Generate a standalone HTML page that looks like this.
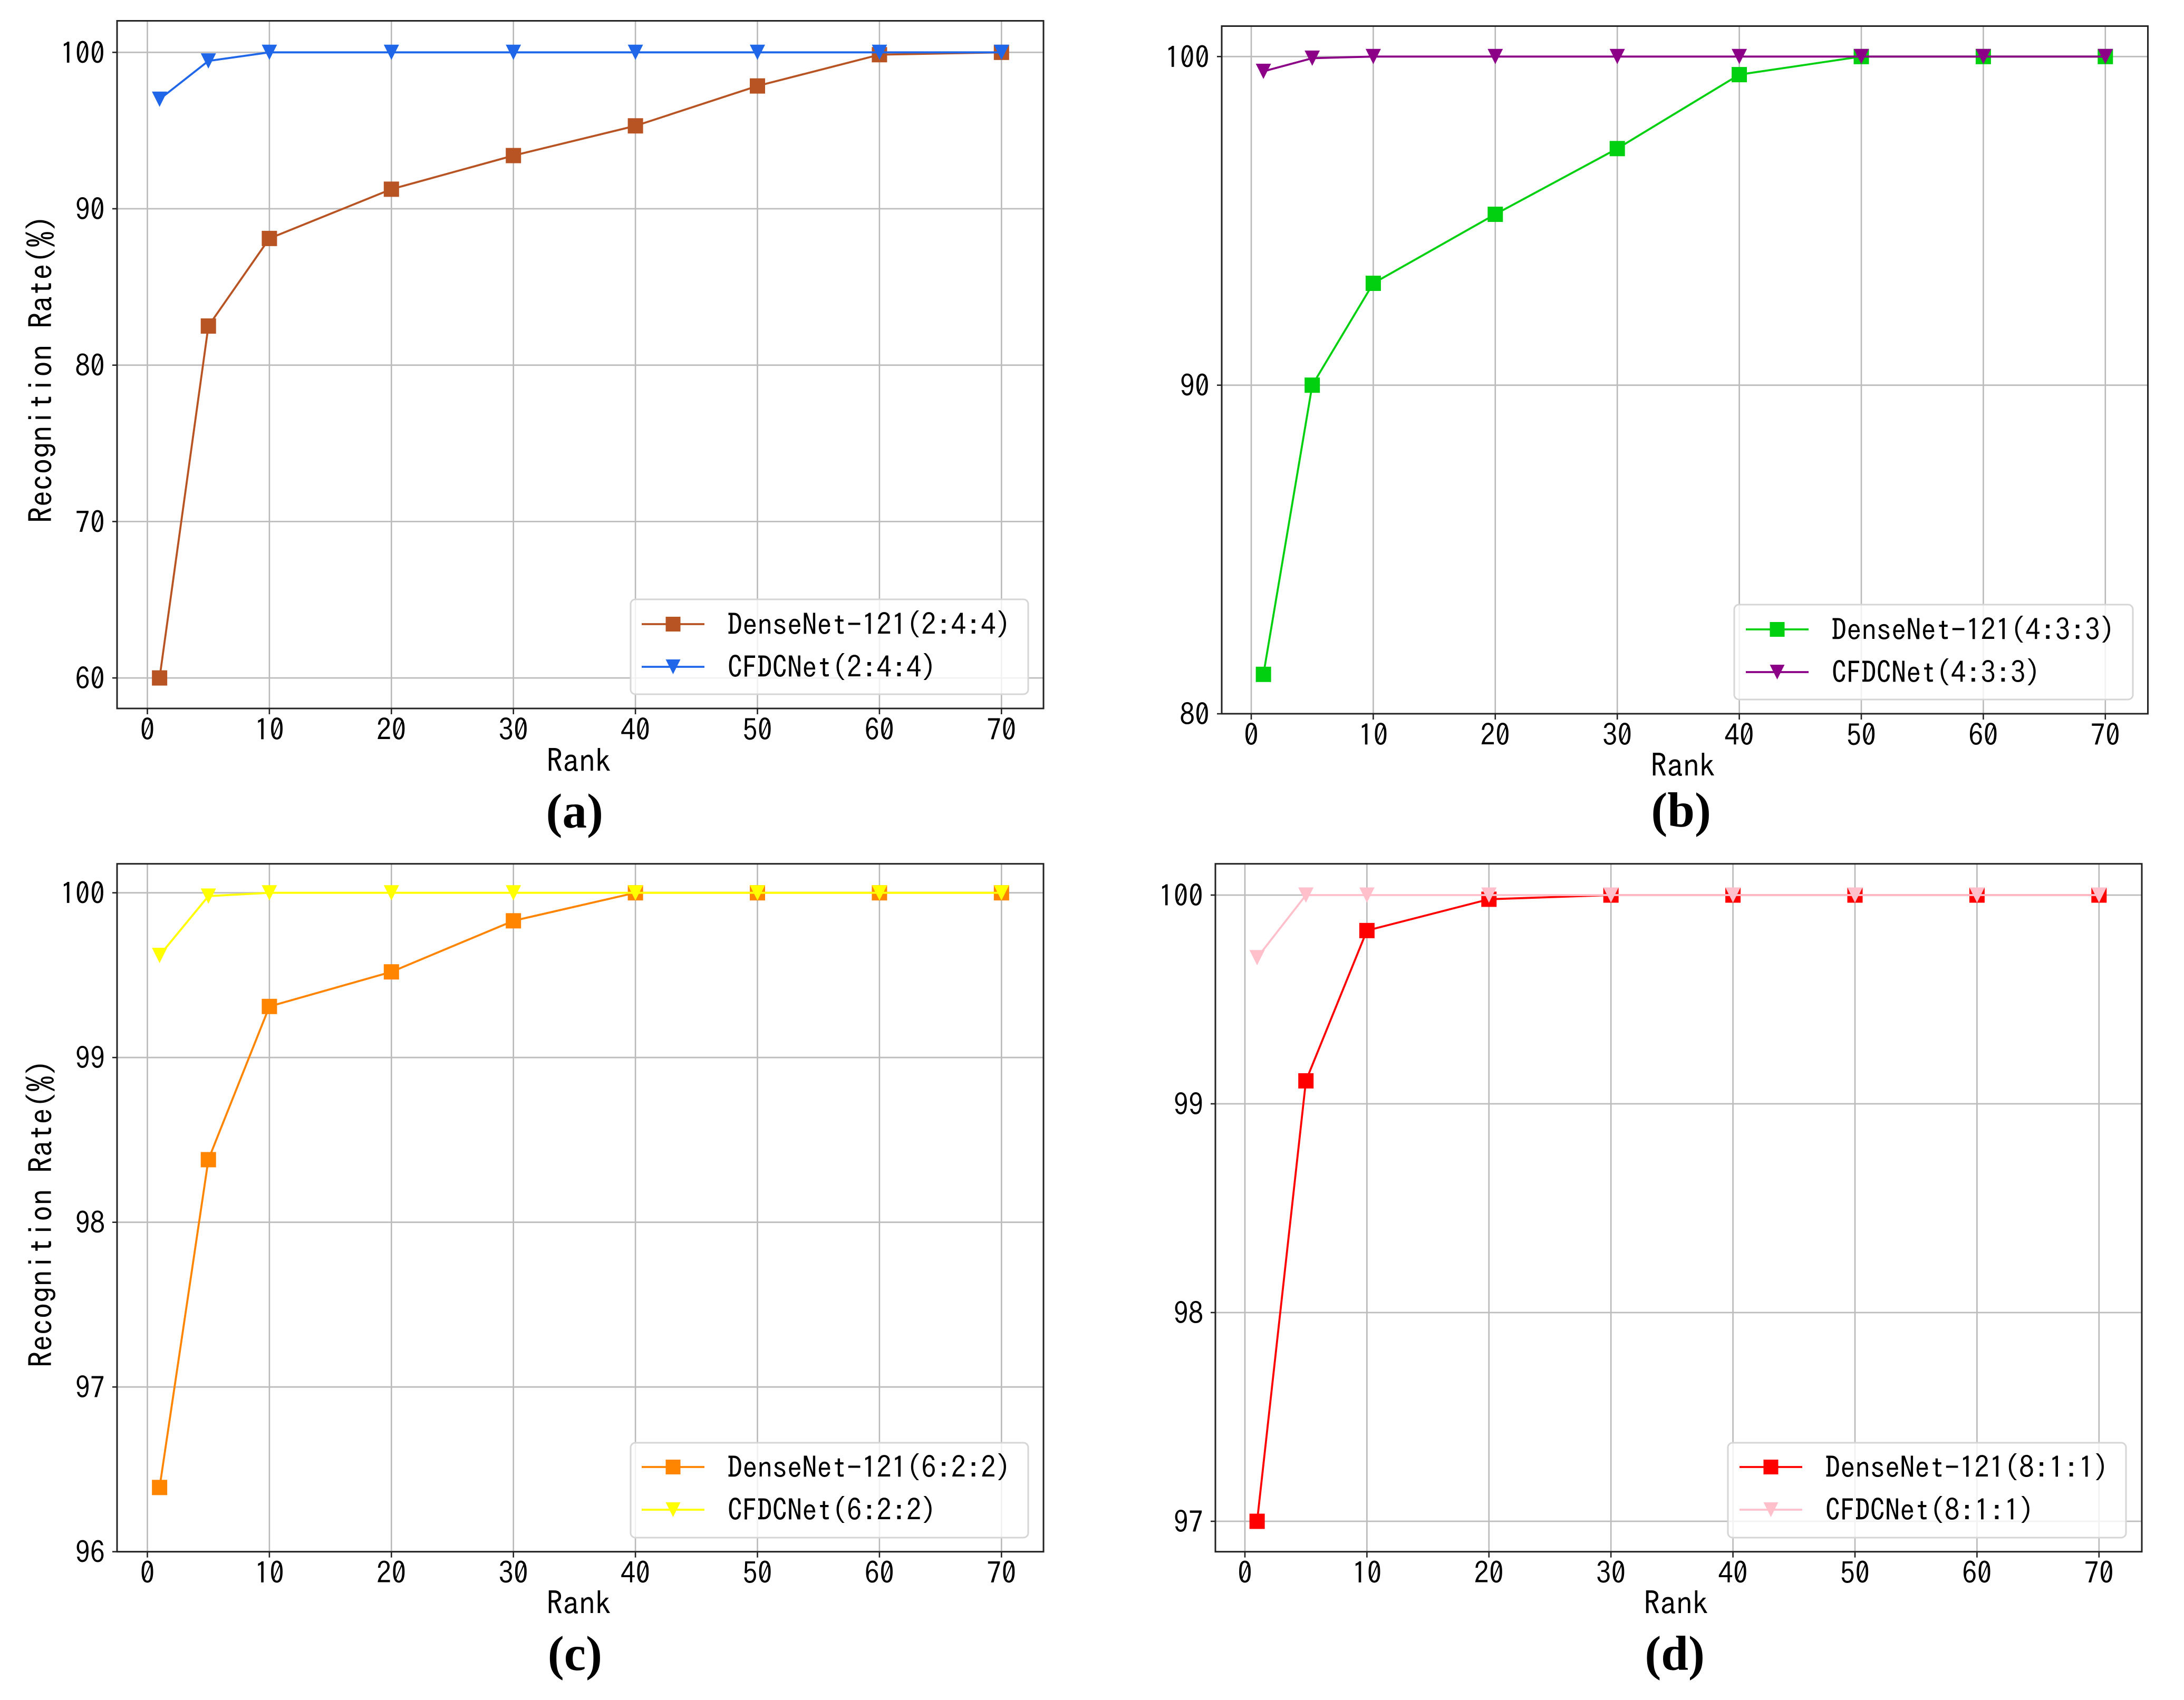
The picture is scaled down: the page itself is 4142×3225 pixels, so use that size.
<!DOCTYPE html>
<html lang="en">
<head>
<meta charset="utf-8">
<title>Recognition rate by rank: DenseNet-121 vs CFDCNet</title>
<style>
html,body{margin:0;padding:0;background:#fff;}
svg{display:block;}
.lbl{font-family:"IPAGothic","Liberation Mono",monospace;font-size:56.5px;fill:#000;}
.axt{font-family:"IPAGothic","Liberation Mono",monospace;font-size:61.5px;fill:#000;}
.cap{font-family:"Liberation Serif",serif;font-weight:bold;font-size:93px;fill:#000;}
.leg{fill:#fff;fill-opacity:.8;stroke:#d6d6d6;stroke-width:3;}
.spine{fill:none;stroke:#222;stroke-width:3;}
</style>
</head>
<body>
<svg id="figure" xmlns="http://www.w3.org/2000/svg" width="4142" height="3225" viewBox="0 0 4142 3225">
<rect x="0" y="0" width="4142" height="3225" fill="#fff"/>

<g id="panel-a">
  <g id="a-grid"></g>
  <g id="a-series"></g>
  <rect class="spine" x="222" y="39.5" width="1757" height="1304.5"/>
  <g id="a-ticks"></g>
  <g>
    <rect class="leg" x="1196" y="1137" width="754" height="180" rx="9"/>
    <line x1="1217" y1="1184" x2="1336" y2="1184" stroke="#b85423" stroke-width="3.8"/>
    <rect x="1262.5" y="1170" width="28" height="28" fill="#b85423"/>
    <text class="lbl" x="1380" y="1205">DenseNet-121(2:4:4)</text>
    <line x1="1217" y1="1265" x2="1336" y2="1265" stroke="#1f67e8" stroke-width="3.8"/>
    <polygon points="1262.5,1251 1290.5,1251 1276.5,1279" fill="#1f67e8"/>
    <text class="lbl" x="1380" y="1286">CFDCNet(2:4:4)</text>
  </g>
  <text class="axt" x="1098" y="1465" text-anchor="middle">Rank</text>
  <text class="axt" x="0" y="0" text-anchor="middle" transform="translate(99.5 700) rotate(-90)">Recognition Rate(%)</text>
  <text class="cap" x="1144" y="1570" text-anchor="end">(a)</text>
</g>

<g id="panel-b">
  <g id="b-grid"></g>
  <g id="b-series"></g>
  <rect class="spine" x="2317" y="49.5" width="1756.5" height="1304.5"/>
  <g id="b-ticks"></g>
  <g>
    <rect class="leg" x="3289" y="1147" width="756" height="180" rx="9"/>
    <line x1="3311" y1="1194" x2="3430" y2="1194" stroke="#00d010" stroke-width="3.8"/>
    <rect x="3356.5" y="1180" width="28" height="28" fill="#00d010"/>
    <text class="lbl" x="3474" y="1215">DenseNet-121(4:3:3)</text>
    <line x1="3311" y1="1275" x2="3430" y2="1275" stroke="#8b0086" stroke-width="3.8"/>
    <polygon points="3356.5,1261 3384.5,1261 3370.5,1289" fill="#8b0086"/>
    <text class="lbl" x="3474" y="1296">CFDCNet(4:3:3)</text>
  </g>
  <text class="axt" x="3192" y="1474" text-anchor="middle">Rank</text>
  <text class="cap" x="3245" y="1568" text-anchor="end">(b)</text>
</g>

<g id="panel-c">
  <g id="c-grid"></g>
  <g id="c-series"></g>
  <rect class="spine" x="222" y="1638.7" width="1757" height="1305"/>
  <g id="c-ticks"></g>
  <g>
    <rect class="leg" x="1196" y="2737" width="754" height="180" rx="9"/>
    <line x1="1217" y1="2783" x2="1336" y2="2783" stroke="#ff8400" stroke-width="3.8"/>
    <rect x="1262.5" y="2769" width="28" height="28" fill="#ff8400"/>
    <text class="lbl" x="1380" y="2804">DenseNet-121(6:2:2)</text>
    <line x1="1217" y1="2864" x2="1336" y2="2864" stroke="#ffff00" stroke-width="3.8"/>
    <polygon points="1262.5,2850 1290.5,2850 1276.5,2878" fill="#ffff00"/>
    <text class="lbl" x="1380" y="2885">CFDCNet(6:2:2)</text>
  </g>
  <text class="axt" x="1098" y="3063" text-anchor="middle">Rank</text>
  <text class="axt" x="0" y="0" text-anchor="middle" transform="translate(99.5 2302) rotate(-90)">Recognition Rate(%)</text>
  <text class="cap" x="1142" y="3168" text-anchor="end">(c)</text>
</g>

<g id="panel-d">
  <g id="d-grid"></g>
  <g id="d-series"></g>
  <rect class="spine" x="2305" y="1638.7" width="1757" height="1305"/>
  <g id="d-ticks"></g>
  <g>
    <rect class="leg" x="3277" y="2737" width="755" height="180" rx="9"/>
    <line x1="3299" y1="2783" x2="3418" y2="2783" stroke="#ff0000" stroke-width="3.8"/>
    <rect x="3344.5" y="2769" width="28" height="28" fill="#ff0000"/>
    <text class="lbl" x="3462" y="2804">DenseNet-121(8:1:1)</text>
    <line x1="3299" y1="2864" x2="3418" y2="2864" stroke="#ffc0cb" stroke-width="3.8"/>
    <polygon points="3344.5,2850 3372.5,2850 3358.5,2878" fill="#ffc0cb"/>
    <text class="lbl" x="3462" y="2885">CFDCNet(8:1:1)</text>
  </g>
  <text class="axt" x="3179" y="3063" text-anchor="middle">Rank</text>
  <text class="cap" x="3233" y="3168" text-anchor="end">(d)</text>
</g>
</svg>

<script>
const ranks = [1, 5, 10, 20, 30, 40, 50, 60, 70];
const xTickValues = [0, 10, 20, 30, 40, 50, 60, 70];

const denseA = [60, 82.5, 88.1, 91.25, 93.4, 95.3, 97.85, 99.85, 100];
const cfdcA  = [97, 99.45, 100, 100, 100, 100, 100, 100, 100];
const yTicksA = [60, 70, 80, 90, 100];

const denseB = [81.2, 90, 93.1, 95.2, 97.2, 99.45, 100, 100, 100];
const cfdcB  = [99.55, 99.95, 100, 100, 100, 100, 100, 100, 100];
const yTicksB = [80, 90, 100];

const denseC = [96.39, 98.38, 99.31, 99.52, 99.83, 100, 100, 100, 100];
const cfdcC  = [99.62, 99.98, 100, 100, 100, 100, 100, 100, 100];
const yTicksC = [96, 97, 98, 99, 100];

const denseD = [97, 99.11, 99.83, 99.98, 100, 100, 100, 100, 100];
const cfdcD  = [99.7, 100, 100, 100, 100, 100, 100, 100, 100];
const yTicksD = [97, 98, 99, 100];

const NS = 'http://www.w3.org/2000/svg';

/* Panel layout: pixel anchors of each axis, not data. */
const layouts = [
  {id:'a', left:222,  right:1979,   top:39.5,   bottom:1344,   x0:279.5, y100:99.3,   perUnit:29.67, ticks:yTicksA, dense:denseA, cfdc:cfdcA, denseColor:'#b85423', cfdcColor:'#1f67e8'},
  {id:'b', left:2317, right:4073.5, top:49.5,   bottom:1354,   x0:2373,  y100:107.3,  perUnit:62.34, ticks:yTicksB, dense:denseB, cfdc:cfdcB, denseColor:'#00d010', cfdcColor:'#8b0086'},
  {id:'c', left:222,  right:1979,   top:1638.7, bottom:2943.7, x0:279.5, y100:1693.7, perUnit:312.5, ticks:yTicksC, dense:denseC, cfdc:cfdcC, denseColor:'#ff8400', cfdcColor:'#ffff00'},
  {id:'d', left:2305, right:4062,   top:1638.7, bottom:2943.7, x0:2361,  y100:1698,   perUnit:396,   ticks:yTicksD, dense:denseD, cfdc:cfdcD, denseColor:'#ff0000', cfdcColor:'#ffc0cb'}
];
const PX_PER_RANK = 23.14;
const MARK = 14.5;

function make(tag, attrs) {
  const el = document.createElementNS(NS, tag);
  Object.keys(attrs).forEach(function (k) { el.setAttribute(k, attrs[k]); });
  return el;
}
function xAxis(p) { return function (v) { return p.x0 + v * PX_PER_RANK; }; }
function yAxis(p) { return function (v) { return p.y100 + (100 - v) * p.perUnit; }; }

function drawAxes(p) {
  const x = xAxis(p), y = yAxis(p);
  const grid = document.getElementById(p.id + '-grid');
  const ticks = document.getElementById(p.id + '-ticks');

  xTickValues.forEach(function (v) {
    const g = make('line', {x1:x(v), x2:x(v), y1:p.top, y2:p.bottom, stroke:'#b9b9b9', 'stroke-width':2.6});
    
    
    grid.appendChild(g);

    const t = make('line', {x1:x(v), x2:x(v), y1:p.bottom, y2:p.bottom + 11, stroke:'#222', 'stroke-width':2.6});
    
    
    ticks.appendChild(t);

    const l = make('text', {x:x(v), y:p.bottom + 61, 'text-anchor':'middle', 'class':'lbl'});
    
    
    l.textContent = String(v);
    ticks.appendChild(l);
  });

  p.ticks.forEach(function (v) {
    const g = make('line', {x1:p.left, x2:p.right, y1:y(v), y2:y(v), stroke:'#bdbdbd', 'stroke-width':2.8});
    
    
    grid.appendChild(g);

    const t = make('line', {x1:p.left - 9, x2:p.left, y1:y(v), y2:y(v), stroke:'#222', 'stroke-width':2.6});
    
    
    ticks.appendChild(t);

    const l = make('text', {x:p.left - 23, y:y(v) + 22, 'text-anchor':'end', 'class':'lbl'});
    
    
    l.textContent = String(v);
    ticks.appendChild(l);
  });
}

function drawSeries(p, values, color, kind) {
  const x = xAxis(p), y = yAxis(p);
  const layer = document.getElementById(p.id + '-series');
  const pts = ranks.map(function (r, i) { return x(r) + ',' + y(values[i]); }).join(' ');
  const line = make('polyline', {points:pts, fill:'none', stroke:color, 'stroke-width':3.8, 'stroke-linejoin':'round'});
  
  
  layer.appendChild(line);

  ranks.forEach(function (r, i) {
    const cx = x(r), cy = y(values[i]);
    let m;
    if (kind === 'square') {
      m = make('rect', {x:cx - MARK, y:cy - MARK, width:MARK * 2, height:MARK * 2, fill:color});
      
    } else {
      m = make('polygon', {points:(cx - MARK) + ',' + (cy - MARK) + ' ' + (cx + MARK) + ',' + (cy - MARK) + ' ' + cx + ',' + (cy + MARK), fill:color});
      
    }
    
    layer.appendChild(m);
  });
}

layouts.forEach(function (p) {
  drawAxes(p);
  drawSeries(p, p.dense, p.denseColor, 'square');
  drawSeries(p, p.cfdc, p.cfdcColor, 'triangle');
});
</script>
</body>
</html>
